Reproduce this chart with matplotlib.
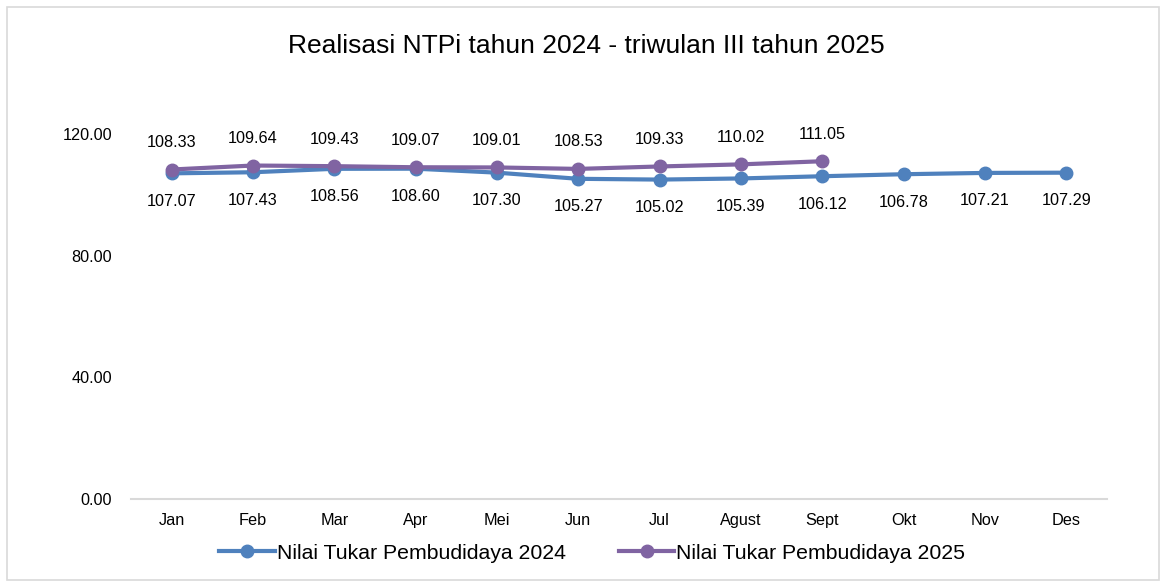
import matplotlib.pyplot as plt
from matplotlib.patches import Rectangle

plt.rcParams['font.family'] = ['Liberation Sans', 'DejaVu Sans']

months = ['Jan', 'Feb', 'Mar', 'Apr', 'Mei', 'Jun', 'Jul', 'Agust', 'Sept', 'Okt', 'Nov', 'Des']
ntp_2024 = [107.07, 107.43, 108.56, 108.60, 107.30, 105.27, 105.02, 105.39, 106.12, 106.78, 107.21, 107.29]
ntp_2025 = [108.33, 109.64, 109.43, 109.07, 109.01, 108.53, 109.33, 110.02, 111.05]
y_ticks = [0, 40, 80, 120]

blue = '#4f81bd'
purple = '#8064a2'

fig = plt.figure(figsize=(11.66, 5.86), dpi=100)
fig.patches.append(Rectangle((7 / 1166, 6 / 586), 1152 / 1166, 573 / 586, transform=fig.transFigure,
                             fill=False, edgecolor='#d9d9d9', linewidth=1.2))
ax = fig.add_axes([0.1123, 0.1485, 0.8370, 0.6228])

x24 = list(range(len(ntp_2024)))
x25 = list(range(len(ntp_2025)))
ax.plot(x24, ntp_2024, color=blue, lw=3, marker='o', ms=9, label='Nilai Tukar Pembudidaya 2024', zorder=3)
ax.plot(x25, ntp_2025, color=purple, lw=3, marker='o', ms=9, label='Nilai Tukar Pembudidaya 2025', zorder=4)

for x, v in zip(x24, ntp_2024):
    ax.annotate(f'{v:.2f}', (x, v), xytext=(0, -20), textcoords='offset points',
                ha='center', va='center', fontsize=11.7, color='#000000', annotation_clip=False)
for x, v in zip(x25, ntp_2025):
    ax.annotate(f'{v:.2f}', (x, v), xytext=(0, 19.5), textcoords='offset points',
                ha='center', va='center', fontsize=11.7, color='#000000', annotation_clip=False)

ax.set_xlim(-0.5, len(months) - 0.5)
ax.set_ylim(0, 120)
ax.set_xticks(range(len(months)))
ax.set_xticklabels(months, fontsize=11.7)
ax.set_yticks(y_ticks)
ax.set_yticklabels([f'{t:.2f}' for t in y_ticks], fontsize=11.7)
ax.tick_params(axis='both', length=0, colors='#000000')
ax.tick_params(axis='y', pad=13.5)
ax.tick_params(axis='x', pad=10)
for side in ['top', 'right', 'left']:
    ax.spines[side].set_visible(False)
ax.spines['bottom'].set_color('#d9d9d9')
ax.spines['bottom'].set_linewidth(1.5)

fig.text(0.503, 0.922, 'Realisasi NTPi tahun 2024 - triwulan III tahun 2025', ha='center', va='center',
         fontsize=19, color='#000000')

fig.legend(loc='center', bbox_to_anchor=(0.508, 0.056), ncol=2, frameon=False, fontsize=15.3,
           handlelength=2.6, handletextpad=0.1, columnspacing=2.5)

fig.savefig('out.png', dpi=100)
